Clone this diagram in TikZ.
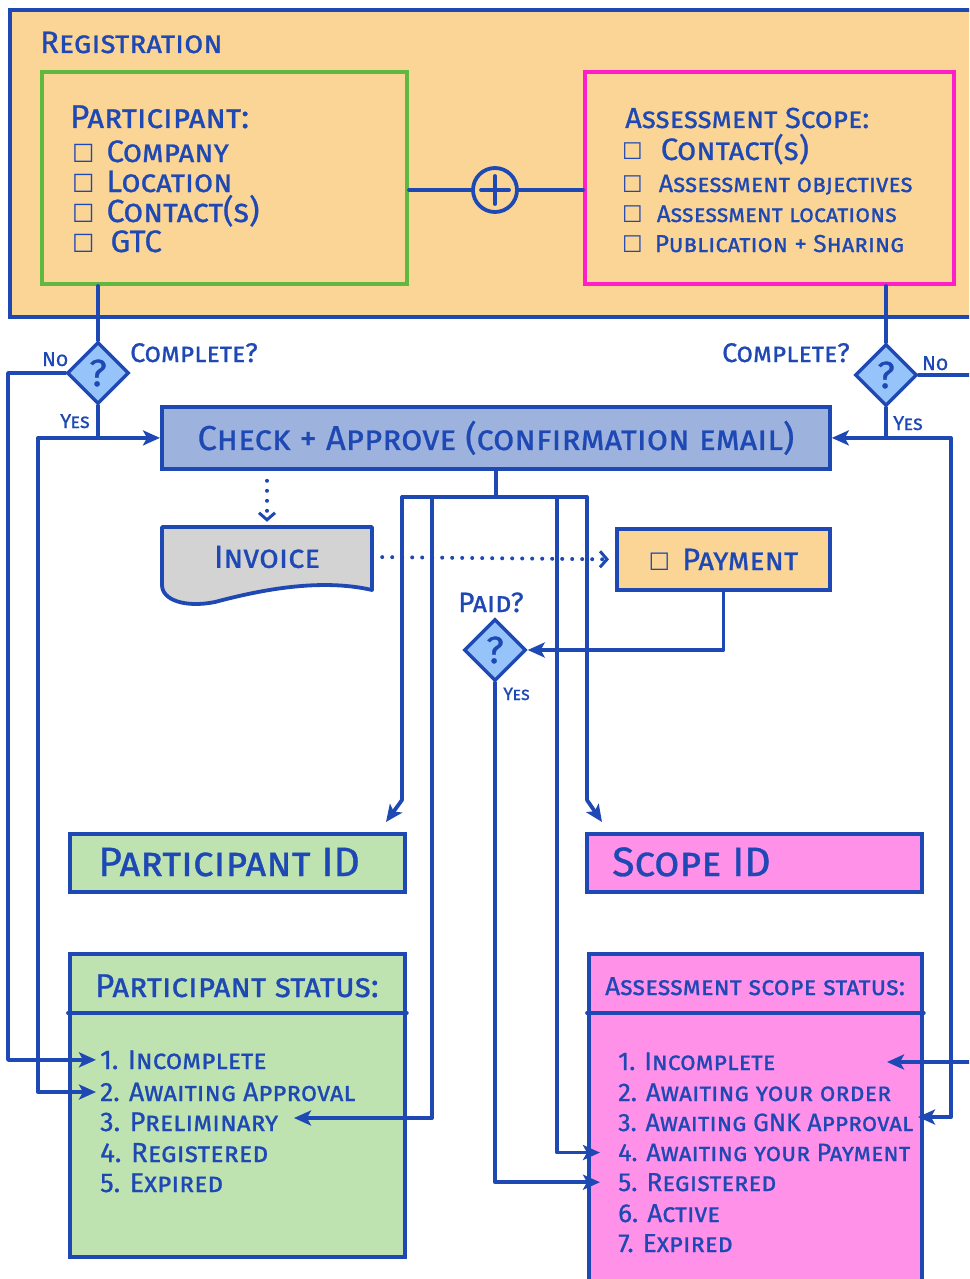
\documentclass[tikz,border=0pt]{standalone}
\usepackage{fontspec}
\setmainfont{Fira Sans}[FakeBold=0.8]
\newfontfamily\symfont{DejaVu Sans}
\usetikzlibrary{shapes.geometric,arrows.meta}
\definecolor{hblue}{RGB}{30,72,180}
\definecolor{regfill}{RGB}{251,213,150}
\definecolor{pgreen}{RGB}{95,185,65}
\definecolor{pmag}{RGB}{255,30,200}
\definecolor{checkfill}{RGB}{158,178,222}
\definecolor{invfill}{RGB}{211,211,211}
\definecolor{idgreen}{RGB}{190,226,176}
\definecolor{idpink}{RGB}{255,145,232}
\definecolor{qfill}{RGB}{150,195,250}
\newcommand\hw[2]{{\fontsize{#1}{#1}\selectfont\scshape #2}}
\newcommand\cbx[1]{{\fontsize{#1}{#1}\symfont ☐}}
\begin{document}
\begin{tikzpicture}[x=1pt,y=-1pt,
  box/.style={draw=hblue,line width=3.8pt,inner sep=0pt,anchor=north west},
  conn/.style={draw=hblue,line width=3.8pt,line cap=round,line join=round},
  arr/.style={conn,-{Stealth[length=17pt,width=15pt,inset=4pt]}},
  dotarr/.style={draw=hblue,line width=4pt,line cap=round,dash pattern=on 0pt off 10pt,-{Straight Barb[length=7pt,width=16pt,line width=3pt]}},
  txt/.style={text=hblue,inner sep=0pt,anchor=base west},
  quest/.style={diamond,draw=hblue,line width=3.4pt,fill=qfill,minimum width=62pt,minimum height=62pt,inner sep=0pt,text=hblue,font=\fontsize{38}{38}\selectfont},
]
\useasboundingbox (0,0) rectangle (969,1279);
\clip (0,0) rectangle (969,1279);

% registration
\node[box,fill=regfill,minimum width=990pt,minimum height=307pt] (reg) at (8,8) {};
\node[txt] (regt) at (40,53) {\hw{31}{Registration}};

\node[box,draw=pgreen,line width=4pt,minimum width=365pt,minimum height=212pt] (pbox) at (40,70) {};
\node[txt] (pt0) at (70,128) {\hw{33}{Participant:}};
\node[txt] (pt1) at (72,162) {\cbx{25}\hspace{12pt}\hw{31}{Company}};
\node[txt] (pt2) at (72,192) {\cbx{25}\hspace{12pt}\hw{31}{Location}};
\node[txt] (pt3) at (72,222) {\cbx{25}\hspace{12pt}\hw{32}{Contact(s)}};
\node[txt] (pt4) at (72,252) {\cbx{25}\hspace{16pt}\hw{31}{GTC}};

\node[box,draw=pmag,line width=4pt,minimum width=369pt,minimum height=212pt] (sbox) at (583,70) {};
\node[txt] (st0) at (625,128) {\hw{29}{Assessment Scope:}};
\node[txt] (st1) at (622,160) {\cbx{23}\hspace{18pt}\hw{31}{Contact(s)}};
\node[txt] (st2) at (622,192) {\cbx{23}\hspace{16pt}\hw{25}{Assessment objectives}};
\node[txt] (st3) at (622,222) {\cbx{23}\hspace{14pt}\hw{24}{Assessment locations}};
\node[txt] (st4) at (622,252) {\cbx{23}\hspace{12pt}\hw{24.5}{Publication + Sharing}};

\node[circle,draw=hblue,line width=3.8pt,minimum size=44pt,inner sep=0pt] (plus) at (495,190) {};
\draw[conn] ([xshift=-14pt]plus.center) -- ([xshift=14pt]plus.center);
\draw[conn] ([yshift=-14pt]plus.center) -- ([yshift=14pt]plus.center);
\draw[conn] (pbox.east |- plus) -- (plus.west);
\draw[conn] (plus.east) -- (sbox.west |- plus);

% decisions
\node[quest] (q1) at (98,373) {?};
\node[quest] (q2) at (886,375) {?};
\node[quest] (q3) at (495,650) {?};
\node[txt] (c1) at (130,362) {\hw{27}{Complete?}};
\node[txt] (n1) at (42,366) {\hw{20}{No}};
\node[txt] (y1) at (60,428) {\hw{20}{Yes}};
\node[txt] (c2) at (722,362) {\hw{27}{Complete?}};
\node[txt] (n2) at (922,370) {\hw{20}{No}};
\node[txt] (y2) at (893,430) {\hw{20}{Yes}};
\node[txt] (pd) at (458,612) {\hw{28}{Paid?}};
\node[txt] (y3) at (503,700) {\hw{18}{Yes}};

% check
\node[box,fill=checkfill,minimum width=668pt,minimum height=62pt,text=hblue] (check) at (160,405) {\hw{34.5}{Check + Approve (confirmation email)}};

% invoice and payment
\path[draw=hblue,fill=invfill,line width=3.8pt,line join=round] (162,527) -- (372,527) -- (372,590)
  .. controls (320,578) and (260,590) .. (215,602) .. controls (185,608) and (162,600) .. (162,585) -- cycle;
\node[inner sep=0pt,minimum width=210pt,minimum height=60pt,text=hblue] (inv) at (267,557) {\hw{32}{Invoice}};
\node[box,fill=regfill,minimum width=213pt,minimum height=61pt,text=hblue] (pay) at (615,527) {\cbx{24}\hspace{12pt}\hw{31}{Payment}};

% ids
\node[box,fill=idgreen,minimum width=335pt,minimum height=58pt] (pid) at (68,832) {};
\node[txt] (pidt) at (98,876) {\hw{41}{Participant ID}};
\node[box,fill=idpink,minimum width=335pt,minimum height=58pt] (sid) at (585,832) {};
\node[txt] (sidt) at (612,876) {\hw{41}{Scope ID}};

% status boxes
\coordinate (divrow) at (0,1013);
\node[box,fill=idgreen,minimum width=335pt,minimum height=303pt] (pst) at (68,952) {};
\draw[conn] (pst.west |- divrow) -- (pst.east |- divrow);
\node[txt] (psh) at (95,997) {\hw{33}{Participant status:}};
\node[txt] (ps1) at (100,1069) {\hw{27}{1. Incomplete}};
\node[txt] (ps2) at (100,1101) {\hw{26.5}{2. Awaiting Approval}};
\node[txt] (ps3) at (100,1131) {\hw{27}{3. Preliminary}};
\node[txt] (ps4) at (100,1162) {\hw{27.5}{4. Registered}};
\node[txt] (ps5) at (100,1192) {\hw{27}{5. Expired}};

\node[box,fill=idpink,minimum width=333pt,minimum height=340pt] (sst) at (587,952) {};
\draw[conn] (sst.west |- divrow) -- (sst.east |- divrow);
\node[txt] (ssh) at (605,995) {\hw{26}{Assessment scope status:}};
\node[txt] (as1) at (618,1070) {\hw{25.5}{1. Incomplete}};
\node[txt] (as2) at (618,1101) {\hw{25.5}{2. Awaiting your order}};
\node[txt] (as3) at (618,1131) {\hw{25}{3. Awaiting GNK Approval}};
\node[txt] (as4) at (618,1161) {\hw{25}{4. Awaiting your Payment}};
\node[txt] (as5) at (618,1191) {\hw{26}{5. Registered}};
\node[txt] (as6) at (618,1222) {\hw{26}{6. Active}};
\node[txt] (as7) at (618,1252) {\hw{26}{7. Expired}};

% routing coordinates
\coordinate (colA) at (8,0);
\coordinate (colB) at (38,0);
\coordinate (colD) at (951,0);
\coordinate (colE) at (995,0);
\coordinate (bendrow) at (0,800);
\coordinate (hL) at (402,497);
\coordinate (hR) at (587,497);
\coordinate (hi1) at (432,497);
\coordinate (hi2) at (557,497);
\coordinate (pidin) at (386,822);
\coordinate (sidin) at (602,822);
\coordinate (t1) at (887,1062);
\coordinate (t3) at (918,1117);
\coordinate (tpre) at (294,1118);
\coordinate (j1) at (q1.south |- check.west);
\coordinate (j2) at (q2.south |- check.east);

% connectors
\draw[conn] (q1 |- pbox.south) -- (q1.north);
\draw[conn] (q2 |- sbox.south) -- (q2.north);
\draw[conn] (q1.south) -- (j1);
\draw[arr] (j1) -- (check.west);
\draw[conn] (q2.south) -- (j2);
\draw[arr] (j2) -- (check.east);
\draw[arr] (q1.west) -| (colA |- ps1.west) -- ([xshift=-4pt]ps1.west);
\draw[arr] (j1) -| (colB |- ps2.west) -- ([xshift=-4pt]ps2.west);
\draw[arr] (q2.east) -| (colE |- t1) -- (t1);
\draw[arr] (j2) -| (colD |- t3) -- (t3);

\draw[conn] (check.south) -- (check.south |- hL);
\draw[conn] (hL) -- (hR);
\draw[arr] (hL) -- (hL |- bendrow) -- (pidin);
\draw[arr] (hR) -- (hR |- bendrow) -- (sidin);
\draw[arr] (hi1) |- (tpre);
\draw[arr] (hi2) |- ([xshift=-18pt]as4.west);
\draw[arr] (pay.south) |- (q3.east);
\draw[arr] (q3.south) |- ([xshift=-18pt]as5.west);

\draw[dotarr,shorten <=10pt] (inv.north |- check.south) -- ([yshift=5pt]inv.north);
\draw[dotarr,shorten <=10pt,shorten >=6pt] (inv.east) -- (pay.west);
\end{tikzpicture}
\end{document}
